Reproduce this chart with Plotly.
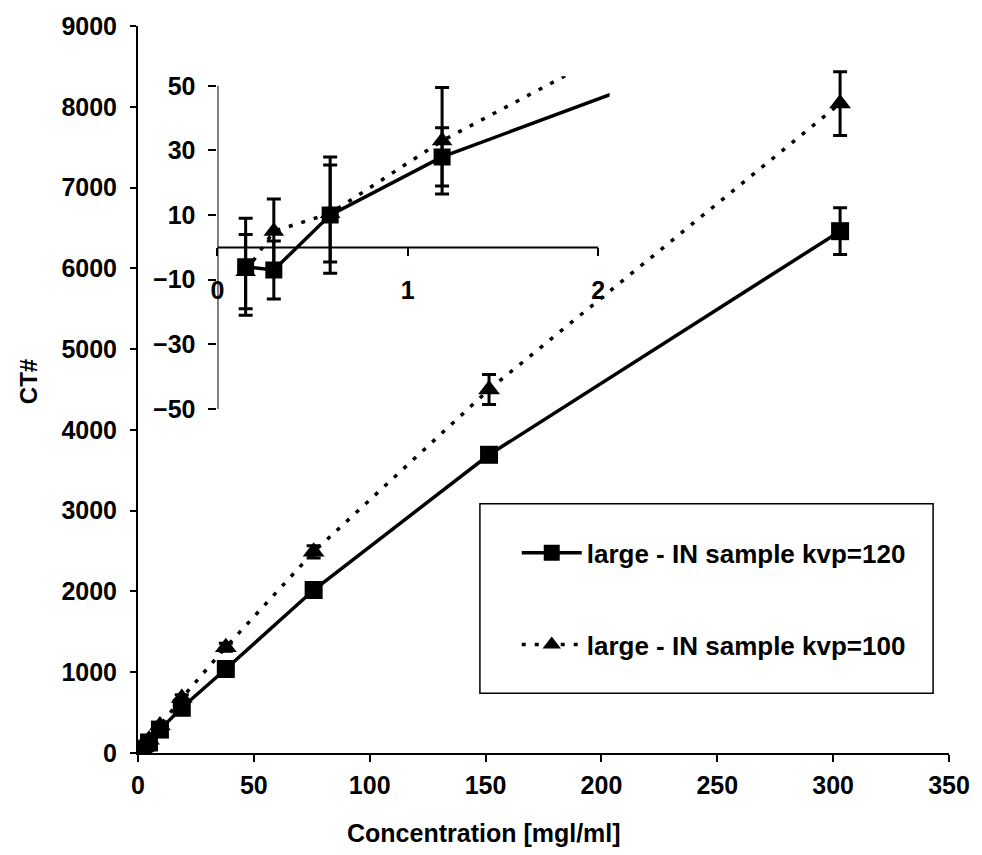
import plotly.graph_objects as go

# ---- data ----
conc = [0.148, 0.296, 0.592, 1.18, 2.37, 4.73, 9.47, 18.9, 37.9, 75.8, 151.5, 303]
ct_120 = [-6, -7, 10, 28, 54, 130, 290, 560, 1040, 2018, 3692, 6460]
err_120 = [15, 9, 18, 9, 12, 20, 30, 40, 50, 60, 70, 290]
ct_100 = [-7.5, 5, 10.5, 33, 70, 165, 340, 680, 1310, 2490, 4500, 8040]
err_100 = [11.5, 10, 15, 16.5, 14, 20, 30, 40, 50, 75, 185, 395]

name_120 = "large - IN sample kvp=120"
name_100 = "large - IN sample kvp=100"

x_ticks = [0, 50, 100, 150, 200, 250, 300, 350]
y_ticks = [0, 1000, 2000, 3000, 4000, 5000, 6000, 7000, 8000, 9000]
inset_x_ticks = [0, 1, 2]
inset_y_ticks = [-50, -30, -10, 10, 30, 50]

x_title = "Concentration [mgl/ml]"
y_title = "CT#"

FONT = "Liberation Sans, Arial, Helvetica, sans-serif"
BLACK = "black"

fig = go.Figure()

def add_series(x, y, e, name, symbol, dash, xa, ya, showlegend, msize):
    fig.add_trace(go.Scatter(
        x=x, y=y, name=name, mode="lines+markers",
        xaxis=xa, yaxis=ya, showlegend=showlegend, legendgroup=name,
        line=dict(color=BLACK, width=3.5, dash=dash),
        marker=dict(symbol=symbol, size=msize, color=BLACK),
        error_y=dict(type="data", array=e, visible=True, color=BLACK,
                     thickness=3, width=7),
    ))

# main chart
add_series(conc, ct_120, err_120, name_120, "square", "solid", "x", "y", True, 18)
add_series(conc, ct_100, err_100, name_100, "triangle-up", "4px,9px", "x", "y", True, 19)
# inset chart
add_series(conc, ct_120, err_120, name_120, "square", "solid", "x2", "y2", False, 17)
add_series(conc, ct_100, err_100, name_100, "triangle-up", "4px,9px", "x2", "y2", False, 18)

tickfont = dict(family=FONT, size=25, color=BLACK, weight="bold")

fig.update_layout(
    width=982, height=855,
    margin=dict(l=138, r=28, t=23, b=102),
    paper_bgcolor="white", plot_bgcolor="rgba(0,0,0,0)",
    font=dict(family=FONT, color=BLACK),
    xaxis=dict(
        range=[0, 350], tickvals=x_ticks, showgrid=False, zeroline=False,
        showline=True, linecolor=BLACK, linewidth=2, ticks="outside",
        ticklen=7, tickwidth=2, tickcolor=BLACK, tickfont=tickfont,
        ticklabelstandoff=2,
    ),
    yaxis=dict(
        range=[0, 9000], tickvals=y_ticks, showgrid=False, zeroline=False,
        showline=True, linecolor=BLACK, linewidth=2, ticks="outside",
        ticklen=6, tickwidth=2, tickcolor=BLACK, tickfont=tickfont,
        ticklabelstandoff=8,
    ),
    xaxis2=dict(
        domain=[0.098, 0.5815], range=[0, 2.06], tickvals=inset_x_ticks,
        anchor="free", position=0.6955, showgrid=False, zeroline=False,
        showline=False, ticks="outside", ticklen=8, tickwidth=2,
        tickcolor=BLACK, tickfont=tickfont, ticklabelstandoff=13,
    ),
    yaxis2=dict(
        domain=[0.4733, 0.931], range=[-50, 53], tickvals=inset_y_ticks,
        anchor="x2", showgrid=False, zeroline=False, showline=False,
        ticks="outside", ticklen=8, tickwidth=2, tickcolor=BLACK,
        tickfont=tickfont, ticklabelstandoff=8,
    ),
    legend=dict(
        x=0.467, y=0.212, xanchor="left", yanchor="middle",
        bgcolor="rgba(0,0,0,0)", borderwidth=0,
        font=dict(family=FONT, size=26, color=BLACK, weight="bold"),
        tracegroupgap=55, itemwidth=60,
    ),
    showlegend=True,
)

# axis titles (placed where the reference has them)
fig.add_annotation(text=x_title, xref="paper", yref="paper",
                   x=(486 - 138) / 816, y=-(833 - 753) / 730,
                   xanchor="center", yanchor="middle", showarrow=False,
                   font=dict(family=FONT, size=25, color=BLACK, weight="bold"))
fig.add_annotation(text=y_title, xref="paper", yref="paper",
                   x=-(138 - 28) / 816, y=(753 - 380) / 730, textangle=-90,
                   xanchor="center", yanchor="middle", showarrow=False,
                   font=dict(family=FONT, size=24, color=BLACK, weight="bold"))

# inset axis lines and legend frame
fig.add_shape(type="line", xref="x2", yref="y2", x0=0, x1=2, y0=0, y1=0,
              line=dict(color=BLACK, width=2))
fig.add_shape(type="line", xref="x2", yref="y2", x0=0, x1=0, y0=-50, y1=50,
              line=dict(color=BLACK, width=2))
fig.add_shape(type="rect", xref="paper", yref="paper",
              x0=0.4216, x1=0.9804, y0=0.0823, y1=0.343,
              line=dict(color=BLACK, width=1.5), fillcolor="rgba(0,0,0,0)")

fig.write_html("out.html")
